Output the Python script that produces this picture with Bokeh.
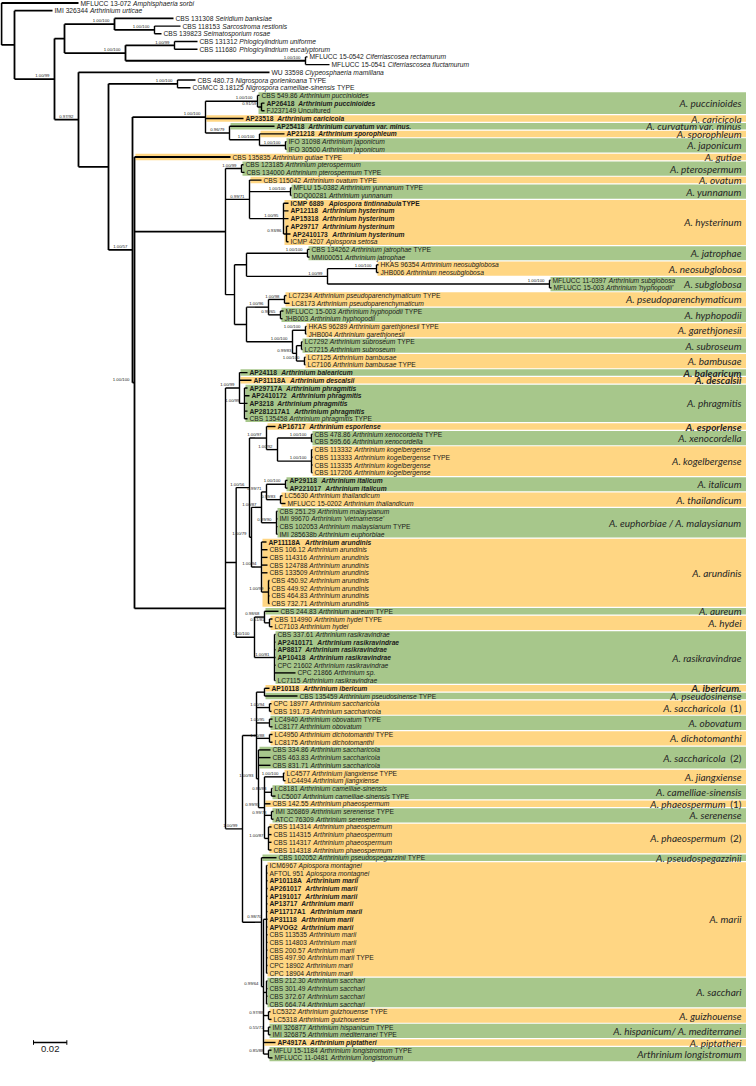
from bokeh.plotting import figure
from bokeh.models import Range1d, ColumnDataSource
from bokeh.core.properties import value, field
from bokeh.embed import file_html
from bokeh.resources import INLINE

# ---------------- data ----------------
strain = [
    "MFLUCC 13-072", "IMI 326344", "CBS 131308", "CBS 118153", "CBS 139823", "CBS 131312", "CBS 111680", "MFLUCC 15-0542", "MFLUCC 15-0541", "WU 33598",
    "CBS 480.73", "CGMCC 3.18125", "CBS 549.86", "AP26418", "FJ237149 Uncultured", "AP23518", "AP25418", "AP21218", "IFO 31098", "IFO 30500",
    "CBS 135835", "CBS 123185", "CBS 134000", "CBS 115042", "MFLU 15-0382", "DDQ00281", "ICMP 6889", "AP12118", "AP15318", "AP29717",
    "AP2410173", "ICMP 4207", "CBS 134262", "MMI00051", "HKAS 96354", "JHB006", "MFLUCC 11-0397", "MFLUCC 15-003", "LC7234", "LC8173",
    "MFLUCC 15-003", "JHB003", "HKAS 96289", "JHB004", "LC7292", "LC7215", "LC7125", "LC7106", "AP24118", "AP31118A",
    "AP29717A", "AP2410172", "AP3218", "AP281217A1", "CBS 135458", "AP16717", "CBS 478.86", "CBS 595.66", "CBS 113332", "CBS 113333",
    "CBS 113335", "CBS 117206", "AP29118", "AP221017", "LC5630", "MFLUCC 15-0202", "CBS 251.29", "IMI 99670", "CBS 102053", "IMI 285638b",
    "AP11118A", "CBS 106.12", "CBS 114316", "CBS 124788", "CBS 133509", "CBS 450.92", "CBS 449.92", "CBS 464.83", "CBS 732.71", "CBS 244.83",
    "CBS 114990", "LC7103", "CBS 337.61", "AP2410171", "AP8817", "AP10418", "CPC 21602", "CPC 21866", "LC7115", "AP10118",
    "CBS 135459", "CPC 18977", "CBS 191.73", "LC4940", "LC8177", "LC4950", "LC8175", "CBS 334.86", "CBS 463.83", "CBS 831.71",
    "LC4577", "LC4494", "LC8181", "LC5007", "CBS 142.55", "IMI 326869", "ATCC 76309", "CBS 114314", "CBS 114315", "CBS 114317",
    "CBS 114318", "CBS 102052", "ICM6967", "AFTOL 951", "AP10118A", "AP261017", "AP191017", "AP13717", "AP11717A1", "AP31118",
    "APVOG2", "CBS 113535", "CBS 114803", "CBS 200.57", "CBS 497.90", "CPC 18902", "CPC 18904", "CBS 212.30", "CBS 301.49", "CBS 372.67",
    "CBS 664.74", "LC5322", "LC5318", "IMI 326877", "IMI 326875", "AP4917A", "MFLU 15-1184", "MFLUCC 11-0481",
]

taxon = (
    ["Amphisphaeria sorbi", "Arthrinium urticae", "Seiridium banksiae", "Sarcostroma restionis",
     "Seimatosporium rosae", "Phlogicylindrium uniforme", "Phlogicylindrium eucalyptorum",
     "Ciferriascosea rectamurum", "Ciferriascosea fluctamurum", "Clypeosphaeria mamillana",
     "Nigrospora gorlenkoana", "Nigrospora camelliae-sinensis",
     "Arthrinium puccinioides", "Arthrinium puccinioides", "",
     "Arthrinium  caricicola", "Arthrinium  curvatum var. minus.", "Arthrinium sporophleum",
     "Arthrinium japonicum", "Arthrinium japonicum", "Arthrinium gutiae",
     "Arthrinium pterospermum", "Arthrinium pterospermum", "Arthrinium ovatum",
     "Arthrinium yunnanum", "Arthrinium yunnanum", "Apiospora tintinnabula"]
    + ["Arthrinium hysterinum"] * 4
    + ["Apiospora setosa", "Arthrinium jatrophae", "Arthrinium jatrophae",
       "Arthrinium neosubglobosa", "Arthrinium neosubglobosa", "Arthrinium subglobosa",
       "Arthrinium 'hyphopodii'", "Arthrinium pseudoparenchymaticum", "Arthrinium pseudoparenchymaticum",
       "Arthrinium hyphopodii", "Arthrinium hyphopodii", "Arthrinium garethjonesii", "Arthrinium garethjonesii",
       "Arthrinium subroseum", "Arthrinium subroseum", "Arthrinium bambusae", "Arthrinium bambusae",
       "Arthrinium balearicum", "Arthrinium descalsii"]
    + ["Arthrinium phragmitis"] * 5
    + ["Arthrinium esporlense", "Arthrinium xenocordella", "Arthrinium xenocordella"]
    + ["Arthrinium kogelbergense"] * 4
    + ["Arthrinium italicum", "Arthrinium italicum", "Arthrinium thailandicum", "Arthrinium thailandicum",
       "Arthrinium malaysianum", "Arthrinium 'vietnamense'", "Arthrinium malaysianum", "Arthrinium euphorbiae"]
    + ["Arthrinium arundinis"] * 9
    + ["Arthrinium aureum", "Arthrinium hydei", "Arthrinium hydei"]
    + ["Arthrinium rasikravindrae"] * 5
    + ["Arthrinium sp.", "Arthrinium rasikravindrae", "Arthrinium ibericum", "Arthrinium pseudosinense",
       "Arthrinium saccharicola", "Arthrinium saccharicola", "Arthrinium obovatum", "Arthrinium obovatum",
       "Arthrinium dichotomanthi", "Arthrinium dichotomanthi"]
    + ["Arthrinium saccharicola"] * 3
    + ["Arthrinium jiangxiense", "Arthrinium jiangxiense", "Arthrinium camelliae-sinensis",
       "Arthrinium camelliae-sinensis", "Arthrinium phaeospermum", "Arthrinium serenense", "Arthrinium serenense"]
    + ["Arthrinium phaeospermum"] * 4
    + ["Arthrinium pseudospegazzinii", "Apiospora montagnei", "Apiospora montagnei"]
    + ["Arthrinium marii"] * 13
    + ["Arthrinium sacchari"] * 4
    + ["Arthrinium guizhouense", "Arthrinium guizhouense", "Arthrinium hispanicum", "Arthrinium mediterranei",
       "Arthrinium piptatheri", "Arthrinium longistromum", "Arthrinium longistromum"]
)

type_leaves = [11, 12, 21, 23, 24, 25, 27, 33, 39, 41, 43, 45, 48, 55, 57, 60, 69, 80, 81, 91,
               94, 96, 101, 104, 106, 112, 125, 132, 134, 135, 137]
bold_leaves = [14, 16, 17, 18, 27, 28, 29, 30, 31, 49, 50, 51, 52, 53, 54, 56, 63, 64, 71,
               84, 85, 86, 90, 115, 116, 117, 118, 119, 120, 121, 136]

# Phylogram sub-trees (Newick): leaves numbered as in the lists above,
# internal labels = PP/BS, branch lengths in 0.001 substitutions per site
OUTGROUP_C = ("((3:35.4,(4:15.6,5:4.2)1.00/100:24.0)1.00/100:30.0,"
              "((6:13.8,7:13.8)1.00/99:29.4,(8:1.2,9:14.4)1.00/100:108.0)1.00/100:36.6):6.0")
NIGRO = "(11:10.8,12:7.8)1.00/100:41.4"
CLADE_G = ("((13:1.2,(14:1.8,15:1.8)0.91/59:2.4)1.00/100:31.2,16:22.8,"
           "(17:27.0,(18:15.0,(19:0.6,20:0.6)1.00/100:15.6)1.00/100:18.0)0.96/79:14.4)1.00/100:43.8")
Y1 = "((33:1.2,34:1.2)1.00/100:36.6,((35:1.2,36:1.2)1.00/100:29.4,(37:0.6,38:1.2)1.00/100:133.2)1.00/99:48.6):7.2"
Y2 = ("(((39:1.2,40:3.0)1.00/98:9.6,(41:1.8,42:1.2)0.98/65:7.2)1.00/96:13.2,"
      "((43:0.6,44:0.6)1.00/100:7.8,((45:0.6,46:0.6):3.0,(47:0.6,48:0.6)1.00/100:4.8)0.99/83:2.4)1.00/100:27.6):7.2")
CLADE_PB = ("((22:1.2,23:1.8)1.00/99:9.6,(24:7.2,(25:0.6,26:0.6)1.00/100:24.6,"
            "(27:3.0,28:3.0,29:3.0,(30:1.2,31:2.4,32:1.2)0.93/86:1.8)1.00/95:20.4)0.99/71:14.4,"
            "(" + Y1 + "," + Y2 + "):5.4):54.6")
BDP = "(49:4.8,50:7.2,(51:1.8,52:3.0,53:1.8,54:1.8,55:1.8)1.00/99:3.0)1.00/99:8.4"
ES = "(56:5.4,((57:0.6,58:0.6)1.00/100:20.4,(59:0.6,60:0.6,61:0.6,62:0.6)1.00/100:20.4)1.00/92:6.6)1.00/97:10.2"
ITM = ("(((63:1.2,64:1.2)1.00/100:11.4,(65:1.2,66:3.0)0.99/83:8.4)0.99/71:3.0,"
       "(67:0.6,68:0.6,69:0.6,70:0.6)0.99/90:9.0)1.00/87:6.0")
ARUN = "(71:3.0,72:3.6,73:3.6,74:3.6,75:3.6,(76:0.6,77:0.6,78:0.6,79:0.6)1.00/99:4.2)1.00/94:6.0"
AHR = ("((80:8.4,(81:1.8,82:1.8)0.51/81:3.0)0.98/68:6.0,"
       "(83:0.6,84:0.6,85:0.6,86:0.6,87:0.6,88:12.6,89:0.6)1.00/81:12.0)1.00/100:11.0")
N1 = "((" + ES + ",(" + ITM + "," + ARUN + ")1.00/79:1.2)1.00/56:8.0," + AHR + "):6.4"
S2B = ("((101:0.6,102:1.2)1.00/100:11.4,(103:0.6,104:2.4)0.86/83:4.2,105:3.6,(106:1.2,107:1.2)0.99/78:4.2,"
       "(108:1.8,109:1.8,110:1.8,111:1.8)1.00/87:2.4)0.99/93:3.6")
MIDG = ("((90:3.0,91:19.8):4.8,(92:1.2,93:1.2)1.00/94:7.8,(94:1.8,95:1.8)1.00/95:7.8,(96:1.8,97:1.8)1.00/88:7.8,"
        "(98:7.2,99:7.2,100:7.2," + S2B + ")1.00/93:1.2):8.4")
MARII = ("(113:0.6,114:0.6,115:0.6,116:0.6,117:0.6,118:0.6,119:0.6,120:0.6,121:0.6,122:0.6,"
         "123:0.6,124:0.6,125:0.6,126:0.6,127:0.6)0.98/70:1.8")
MARG = ("(112:9.0,(" + MARII + ",(128:0.6,129:0.6,130:0.6,131:0.6):1.8,(132:1.2,133:1.8)0.97/88:3.0,"
        "(134:1.2,135:1.2)0.55/71:3.0,136:7.2,(137:1.8,138:2.4)0.85/88:3.0)0.99/64:1.2):11.4")
L4G = "(" + MIDG + "," + MARG + ")1.00/99:10.2"
CLADE_LG = "(" + BDP + "," + N1 + "," + L4G + "):54.6"
CLADE_K = "(21:57.6," + CLADE_PB + "," + CLADE_LG + ")1.00/100:1.2"
CLADE_F = "(" + CLADE_G + "," + CLADE_K + ")1.00/57:14.4"
CLADE_E = "(" + NIGRO + "," + CLADE_F + "):18.0"
CLADE_D = "(10:114.6," + CLADE_E + ")0.97/92:14.4"
TREE_NEWICK = "(1:46.2,(2:22.8,(" + OUTGROUP_C + "," + CLADE_D + ")1.00/99:24.0):7.8);"

clade_first = [13, 16, 17, 18, 19, 21, 22, 24, 25, 27, 33, 35, 37, 39, 41, 43, 45, 47, 49, 50, 51, 56, 57, 59, 63,
               65, 67, 71, 80, 81, 83, 90, 91, 92, 94, 96, 98, 101, 103, 105, 106, 108, 112, 113, 128, 132, 134, 136, 137]
clade_last = [15, 16, 17, 18, 20, 21, 23, 24, 26, 32, 34, 36, 38, 40, 42, 44, 46, 48, 49, 50, 55, 56, 58, 62, 64,
              66, 70, 79, 80, 82, 89, 90, 91, 93, 95, 97, 100, 102, 104, 105, 107, 111, 112, 127, 131, 133, 135, 136, 138]
clade_name = ["A. puccinioides", "A. caricicola", "A. curvatum var. minus", "A. sporophleum", "A. japonicum",
              "A. gutiae", "A. pterospermum", "A. ovatum", "A. yunnanum", "A. hysterinum", "A. jatrophae",
              "A. neosubglobosa", "A. subglobosa", "A. pseudoparenchymaticum", "A. hyphopodii", "A. garethjonesii",
              "A. subroseum", "A. bambusae", "A. balearicum", "A. descalsii", "A. phragmitis", "A. esporlense",
              "A. xenocordella", "A. kogelbergense", "A. italicum", "A. thailandicum", "A. euphorbiae / A. malaysianum",
              "A. arundinis", "A. aureum", "A. hydei", "A. rasikravindrae", "A. ibericum.", "A. pseudosinense",
              "A. saccharicola", "A. obovatum", "A. dichotomanthi", "A. saccharicola", "A. jiangxiense",
              "A. camelliae-sinensis", "A. phaeospermum", "A. serenense", "A. phaeospermum", "A. pseudospegazzinii",
              "A. marii", "A. sacchari", "A. guizhouense", "A. hispanicum/ A. mediterranei", "A. piptatheri",
              "Arthrinium longistromum"]
clade_suffix = {33: "(1)", 36: "(2)", 39: "(1)", 41: "(2)"}
clade_bold = [18, 19, 21, 31]
clade_fill = ["G", "O"] * 24 + ["G"]
scale_bar_value = 0.02

# ---------------- layout helpers ----------------
W, H = 746, 1070
UPX = 0.6                 # tree units (0.001 subst.) per pixel
X0 = -1 * UPX             # root sits 1px from the left edge
ROW = 7.7                 # pixels per leaf row
Y_TOP = -2.5 / ROW
Y_BOT = Y_TOP + H / ROW


def px(n):
    return n * UPX


def rows(n):
    return n / ROW


def parse(s):
    pos = [0]

    def node():
        n = {"children": [], "label": "", "len": 0.0, "leaf": None}
        if s[pos[0]] == "(":
            pos[0] += 1
            while True:
                n["children"].append(node())
                ch = s[pos[0]]
                pos[0] += 1
                if ch == ")":
                    break
        st = pos[0]
        while s[pos[0]] not in ":,();":
            pos[0] += 1
        lab = s[st:pos[0]]
        if n["children"]:
            n["label"] = lab
        else:
            n["leaf"] = int(lab)
        if s[pos[0]] == ":":
            pos[0] += 1
            st = pos[0]
            while s[pos[0]] not in ",();":
                pos[0] += 1
            n["len"] = float(s[st:pos[0]])
        return n

    return node()


root = parse(TREE_NEWICK)

hx0, hx1, hy, hw = [], [], [], []
vx, vy0, vy1, vw = [], [], [], []
lab_x, lab_y, lab_t = [], [], []
leaf_tip = {}
leaf_parent = {}
BACKBONE = px(150)


def lay(n, px_parent):
    n["x"] = px_parent + n["len"]
    if n["children"]:
        for c in n["children"]:
            lay(c, n["x"])
        n["y"] = (n["children"][0]["y"] + n["children"][-1]["y"]) / 2.0
    else:
        n["y"] = n["leaf"] - 1
    return n


lay(root, 0.0)


def collect(n, parent):
    if parent is not None:
        hx0.append(parent["x"]); hx1.append(n["x"]); hy.append(n["y"])
        hw.append(1.8 if parent["x"] < BACKBONE else 1.4)
    if n["children"]:
        vx.append(n["x"]); vy0.append(n["children"][0]["y"]); vy1.append(n["children"][-1]["y"])
        vw.append(1.8 if n["x"] < BACKBONE else 1.4)
        if n["label"]:
            lab_x.append(n["x"] - px(5)); lab_y.append(n["y"] - rows(0.8)); lab_t.append(n["label"])
        for c in n["children"]:
            collect(c, n)
    else:
        leaf_tip[n["leaf"]] = n["x"]
        leaf_parent[n["leaf"]] = parent["x"]


collect(root, None)

# Arial-like advance widths (1/1000 em) for placing mixed-style label pieces
AW = {" ": 278, ".": 278, "-": 333, "/": 278, "'": 191, "(": 333, ")": 333}
for ch in "0123456789":
    AW[ch] = 556
AW.update(dict(A=667, B=667, C=722, D=722, E=667, F=611, G=778, H=722, I=278, J=500, K=667, L=556, M=833,
               N=722, O=778, P=667, Q=778, R=722, S=667, T=611, U=722, V=667, W=944, X=667, Y=667, Z=611))
AW.update(dict(a=556, b=556, c=500, d=556, e=556, f=278, g=556, h=556, i=222, j=222, k=500, l=222, m=833,
               n=556, o=556, p=556, q=556, r=333, s=500, t=278, u=556, v=500, w=722, x=500, y=500, z=500))

FS = 6.7


def tw(s, bold=False):
    w = sum(AW.get(c, 556) for c in s) * FS / 1000.0
    return w * (1.08 if bold else 1.0)


tx, ty, tt, tstyle = [], [], [], []
for i in range(1, len(strain) + 1):
    b = i in bold_leaves
    x = leaf_tip[i] + px(2)
    y = i - 1
    pieces = [(strain[i - 1], "normal")]
    if taxon[i - 1]:
        pieces.append((taxon[i - 1], "italic"))
    if i in type_leaves:
        pieces.append(("TYPE", "normal"))
    cur = x
    for k, (txt, st) in enumerate(pieces):
        style = st
        if b:
            style = "bold italic" if st == "italic" else "bold"
        tx.append(cur); ty.append(y); tt.append(txt); tstyle.append(style)
        cur += px(tw(txt + " ", b))

# ---------------- figure ----------------
p = figure(width=W, height=H, x_range=Range1d(X0, X0 + W * UPX), y_range=Range1d(Y_BOT, Y_TOP),
           output_backend="svg", toolbar_location=None, min_border=0)
p.axis.visible = False
p.grid.visible = False
p.outline_line_color = None
p.background_fill_color = "white"

GREEN = "#a7c78b"
ORANGE = "#ffd683"
bl, br, bt, bb, bc = [], [], [], [], []
cl_x, cl_y, cl_t, cl_style = [], [], [], []
sf_x, sf_y, sf_t = [], [], []
RIGHT = X0 + W * UPX
LABEL_X = X0 + px(741)
for k in range(len(clade_name)):
    f, l = clade_first[k], clade_last[k]
    left = min(leaf_parent[i] for i in range(f, l + 1)) + px(1)
    bl.append(left); br.append(RIGHT)
    bt.append(f - 1 - 0.5 + 0.08); bb.append(l - 1 + 0.5 - 0.08)
    bc.append(GREEN if clade_fill[k] == "G" else ORANGE)
    yc = (f + l) / 2.0 - 1
    if k in clade_suffix:
        sf_x.append(LABEL_X); sf_y.append(yc); sf_t.append(clade_suffix[k])
        cl_x.append(LABEL_X - px(16))
    else:
        cl_x.append(LABEL_X)
    cl_y.append(yc); cl_t.append(clade_name[k])
    cl_style.append("bold italic" if k in clade_bold else "italic")

p.quad(left=bl, right=br, top=bt, bottom=bb, fill_color=bc, line_color=None)

p.segment(x0="x0", y0="y", x1="x1", y1="y", line_width="w", line_color="black",
          source=ColumnDataSource(dict(x0=hx0, x1=hx1, y=hy, w=hw)))
p.segment(x0="x", y0="y0", x1="x", y1="y1", line_width="w", line_color="black",
          source=ColumnDataSource(dict(x=vx, y0=vy0, y1=vy1, w=vw)))

leaf_src = ColumnDataSource(dict(x=tx, y=ty, t=tt, st=tstyle))
p.text(x="x", y="y", text="t", source=leaf_src, text_font=value("Liberation Sans"),
       text_font_size=value(f"{FS}px"), text_font_style=field("st"), text_baseline="middle",
       text_align="left", text_color="#1a1a1a")

p.text(x=lab_x, y=lab_y, text=lab_t, text_font=value("Liberation Sans"), text_font_size=value("4.3px"),
       text_baseline="bottom", text_align="right", text_color="#222222")

clade_src = ColumnDataSource(dict(x=cl_x, y=cl_y, t=cl_t, st=cl_style))
p.text(x="x", y="y", text="t", source=clade_src, text_font=value("Lato"), text_font_size=value("10px"),
       text_font_style=field("st"), text_baseline="middle", text_align="right", text_color="#262626")
p.text(x=sf_x, y=sf_y, text=sf_t, text_font=value("Lato"), text_font_size=value("10px"),
       text_baseline="middle", text_align="right", text_color="#262626")

# scale bar
sb_x0 = X0 + px(33)
sb_x1 = sb_x0 + scale_bar_value * 1000
sb_y = (1050 - 8 - 2.5) / ROW
p.segment(x0=[sb_x0], y0=[sb_y], x1=[sb_x1], y1=[sb_y], line_color="black", line_width=1.3)
p.segment(x0=[sb_x0, sb_x1], y0=[sb_y - 0.3, sb_y - 0.3], x1=[sb_x0, sb_x1], y1=[sb_y + 0.3, sb_y + 0.3],
          line_color="black", line_width=1.0)
p.text(x=[(sb_x0 + sb_x1) / 2], y=[sb_y + 0.45], text=[f"{scale_bar_value:.2f}"], text_font=value("Liberation Sans"),
       text_font_size=value("9.5px"), text_baseline="top", text_align="center", text_color="#1a1a1a")

open("out.html", "w").write(file_html(p, INLINE))
